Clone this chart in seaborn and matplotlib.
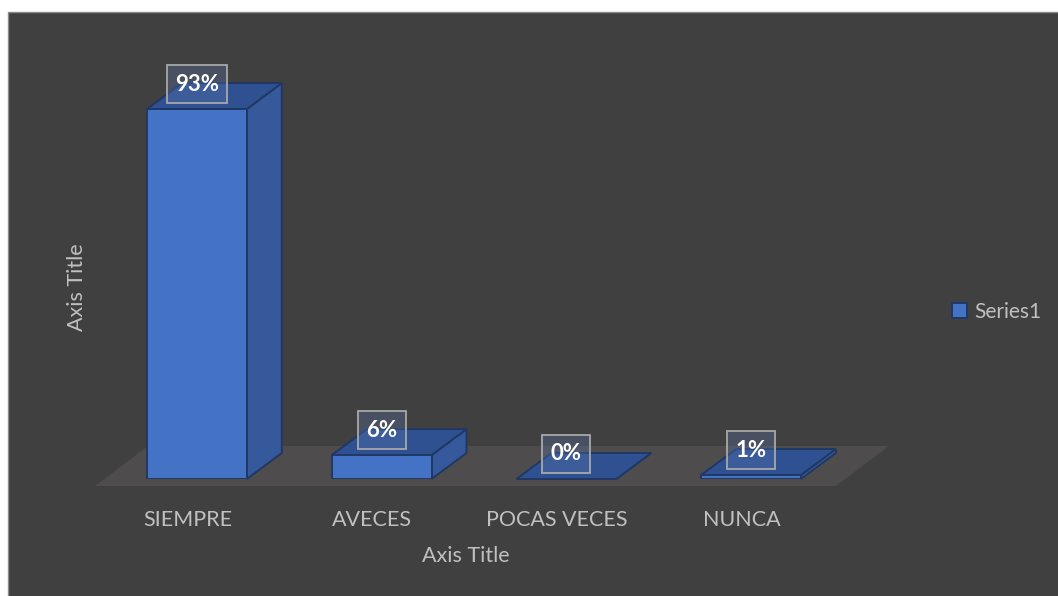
import numpy as np
import pandas as pd
import matplotlib
matplotlib.use("Agg")
import matplotlib.pyplot as plt
import seaborn as sns
from matplotlib.patches import Polygon, Rectangle
from matplotlib.transforms import IdentityTransform

# ---- data ----
categories = ["SIEMPRE", "AVECES", "POCAS VECES", "NUNCA"]
values = [93, 6, 0, 1]
series_name = "Series1"
x_title = "Axis Title"
y_title = "Axis Title"

sns.set_theme(style="dark")
plt.rcParams["font.family"] = ["Lato", "DejaVu Sans"]

BG = "#404040"
FRONT = "#4472c4"
TOP = "#2f5191"
SIDE = "#36599c"
EDGE = "#203864"
FLOOR = "#4e4c4c"
TXT = "#c0c0c0"

W, H = 1058, 596
fig = plt.figure(figsize=(W / 100, H / 100), dpi=100)
fig.patch.set_facecolor("white")
fig.patches.append(Rectangle((8 / W, -0.01), 1.0, 1 - 12 / H + 0.01,
                             transform=fig.transFigure, facecolor=BG,
                             edgecolor="#8a8a8a", lw=1.0, zorder=-5))

ax = fig.add_axes([104.6 / W, (H - 479) / H, 738.8 / W, 397.8 / H])
ax.set_facecolor("none")

df = pd.DataFrame({"category": categories, "value": values})
sns.barplot(data=df, x="category", y="value", color=FRONT, width=0.54,
            saturation=1, edgecolor=EDGE, linewidth=1.4, label=series_name,
            ax=ax, zorder=4)
ax.set_xlim(-0.5, 3.5)
ax.set_ylim(0, 100)

ident = IdentityTransform()

# depth of the bars and of the floor, in pixels
dx, dy = 35, 26
fdx, fdy = 53, 40

# floor plane
fl, fr = ax.transData.transform([(-0.552, 0), (3.46, 0)])
fy = fl[1] - 7
floor = Polygon([(fl[0], fy), (fr[0], fy), (fr[0] + fdx, fy + fdy),
                 (fl[0] + fdx, fy + fdy)], closed=True, facecolor=FLOOR,
                edgecolor="none", transform=ident, clip_on=False, zorder=1)

# top and side faces of each box
bars = [p for p in ax.patches if isinstance(p, Rectangle)]
ax.add_patch(floor)
for bar in bars:
    x0 = bar.get_x()
    x1 = x0 + bar.get_width()
    h = bar.get_height()
    (ax0, ay0), (ax1, ay1) = ax.transData.transform([(x0, 0), (x1, h)])
    top = Polygon([(ax0, ay1), (ax1, ay1), (ax1 + dx, ay1 + dy), (ax0 + dx, ay1 + dy)],
                  closed=True, facecolor=TOP, edgecolor=EDGE, lw=1.4,
                  transform=ident, clip_on=False, zorder=3)
    side = Polygon([(ax1, ay0), (ax1 + dx, ay0 + dy), (ax1 + dx, ay1 + dy), (ax1, ay1)],
                   closed=True, facecolor=SIDE, edgecolor=EDGE, lw=1.4,
                   transform=ident, clip_on=False, zorder=3)
    ax.add_patch(side)
    ax.add_patch(top)

# value labels
for i, v in enumerate(values):
    ax.annotate(f"{v}%", xy=(i, v), xytext=(0, 18), textcoords="offset points",
                ha="center", va="center", fontsize=16, fontweight="bold",
                color="white", zorder=10, annotation_clip=False,
                bbox=dict(boxstyle="square,pad=0.38", fc=(0.36, 0.47, 0.69, 0.3),
                          ec="#a8a8a8", lw=1.3))

# axes styling
for s in ax.spines.values():
    s.set_visible(False)
ax.set_yticks([])
ax.set_xticks(np.arange(len(categories)) - 0.05, categories)
ax.tick_params(axis="x", length=0, pad=22, labelsize=15.5, colors=TXT)
ax.grid(False)

ax.set_xlabel(x_title, fontsize=15.5, color=TXT)
ax.xaxis.set_label_coords((466 - 104.6) / 738.8, (479 - 556) / 397.8)
ax.xaxis.label.set_verticalalignment("center")
ax.set_ylabel(y_title, fontsize=15.5, color=TXT)
ax.yaxis.set_label_coords((77 - 104.6) / 738.8, (479 - 287) / 397.8)
ax.yaxis.label.set_verticalalignment("center")

leg = ax.legend(loc="center left", bbox_to_anchor=(952 / W, 1 - 311.5 / H),
                bbox_transform=fig.transFigure, frameon=False, fontsize=15,
                handlelength=0.7, handleheight=0.7, handletextpad=0.35,
                borderpad=0, borderaxespad=0)
for t in leg.get_texts():
    t.set_color(TXT)

fig.savefig("out.png", dpi=100, facecolor=fig.get_facecolor())
